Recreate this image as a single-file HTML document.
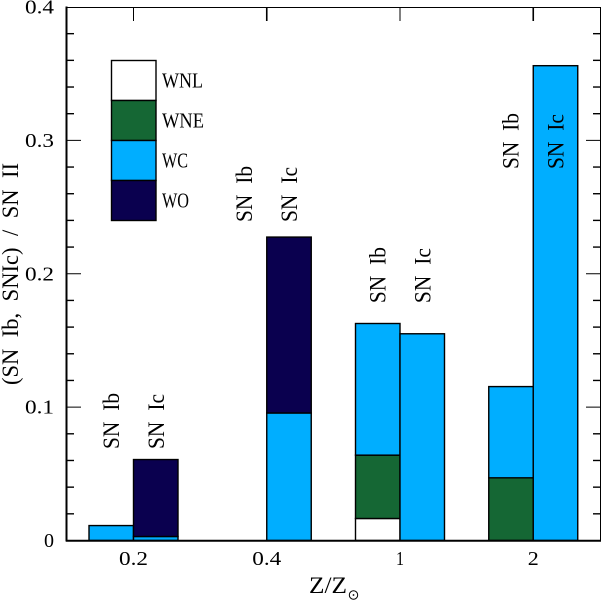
<!DOCTYPE html>
<html lang="en">
<head>
<meta charset="utf-8">
<title>SN Ib, SN Ic to SN II ratio by metallicity</title>
<style>
html,body{margin:0;padding:0;background:#fff;}
svg{display:block;}
text{font-family:"Liberation Serif",serif;fill:#000;}
</style>
</head>
<body>
<svg id="chart" xmlns="http://www.w3.org/2000/svg" width="601" height="600" viewBox="0 0 601 600"></svg>
<script>
const categories = ['0.2', '0.4', '1', '2'];
const yTickLabels = ['0', '0.1', '0.2', '0.3', '0.4'];
const legendLabels = ['WNL', 'WNE', 'WC', 'WO'];
const ibWNL = [0, 0, 0.0165, 0];
const ibWNE = [0, 0, 0.0475, 0.047];
const ibWC = [0.0112, 0, 0.0987, 0.0684];
const ibWO = [0, 0, 0, 0];
const icWNL = [0, 0, 0, 0];
const icWNE = [0, 0, 0, 0];
const icWC = [0.003, 0.0956, 0.155, 0.356];
const icWO = [0.0577, 0.1319, 0, 0];
const ibLabelValue = [0.0686, 0.2388, 0.178, 0.2785];
const icLabelValue = [0.0686, 0.2388, 0.178, 0.2785];

const NS = 'http://www.w3.org/2000/svg';
const svg = document.getElementById('chart');
const colors = ['#ffffff', '#156734', '#00aeff', '#0a004f'];
const left = 67, right = 600, top0 = 7, bottom = 540.5;
const yMax = 0.4;
function y(v) { return bottom - (v / yMax) * (bottom - top0); }
function x(i) { return 133.5 + i * (right - left) / 4; }
const barW = 44.5;

function make(tag, attrs, parent) {
  const el = document.createElementNS(NS, tag);
  for (const k in attrs) el.setAttribute(k, attrs[k]);
  (parent || svg).appendChild(el);
  return el;
}
function drawText(str, px, py, width, rotate, name, size, wordGap) {
  const attrs = { x: px, y: py, textLength: width, lengthAdjust: 'spacingAndGlyphs' };
  if (rotate) attrs.transform = 'rotate(-90 ' + px + ' ' + py + ')';
  const t = make('text', attrs);
  t.textContent = str;
  t.style.fontSize = size + 'px';
  if (wordGap) t.style.wordSpacing = wordGap + 'px';
  
  
  return t;
}
function drawRect(px, py, w, h, fill, name) {
  const r = make('rect', { x: px, y: py, width: w, height: h, fill: fill, stroke: '#000', 'stroke-width': 1.4 });
  
  
  return r;
}
function drawLine(x1, y1, x2, y2, w, name) {
  const l = make('line', { x1: x1, y1: y1, x2: x2, y2: y2, stroke: '#000', 'stroke-width': w });
  
  
  return l;
}

/* stacked bars */
const seriesNames = ['wnl', 'wne', 'wc', 'wo'];
const ibSeries = [ibWNL, ibWNE, ibWC, ibWO];
const icSeries = [icWNL, icWNE, icWC, icWO];
categories.forEach(function (cat, i) {
  let base = 0;
  ibSeries.forEach(function (s, k) {
    if (s[i] > 0) {
      drawRect(x(i) - barW, y(base + s[i]), barW, y(base) - y(base + s[i]), colors[k], 'bar-ib-' + seriesNames[k] + '-' + cat);
      base += s[i];
    }
  });
  base = 0;
  icSeries.forEach(function (s, k) {
    if (s[i] > 0) {
      drawRect(x(i), y(base + s[i]), barW, y(base) - y(base + s[i]), colors[k], 'bar-ic-' + seriesNames[k] + '-' + cat);
      base += s[i];
    }
  });
});

/* frame */
drawLine(66.5, 6.5, 66.5, 541.5, 2, 'left-axis');
drawLine(66, 7.5, 601, 7.5, 1, 'top-axis');
drawLine(600.5, 7, 600.5, 541, 1, 'right-axis');
drawLine(66, 540.7, 601, 540.7, 2, 'bottom-axis');

/* y ticks, major every 0.1 and minor every 0.02 */
for (let n = 1; n < 20; n++) {
  const v = n * 0.02;
  const major = n % 5 === 0;
  const len = major ? 14 : 7;
  const w = major ? 1 : 1.4;
  drawLine(left, y(v), left + len, y(v), w, 'left-tick-' + v.toFixed(2));
  drawLine(right, y(v), right - len, y(v), w, 'right-tick-' + v.toFixed(2));
}
/* top ticks at the categories */
categories.forEach(function (cat, i) {
  drawLine(x(i), top0, x(i), top0 + 14, i % 2 ? 1.6 : 1, 'top-tick-' + cat);
});

/* y tick labels */
yTickLabels.forEach(function (lab) {
  const isZero = lab === '0';
  drawText(lab, isZero ? 44 : 25, y(parseFloat(lab)) + 6.5, isZero ? 10 : 29, false, 'y-tick-label-' + lab, 20);
});
/* x tick labels */
categories.forEach(function (cat, i) {
  const w = cat.length > 1 ? 29 : (cat === '1' ? 8 : 11);
  drawText(cat, x(i) - w / 2, 565, w, false, 'x-tick-label-' + cat, 20);
});

/* axis titles */
drawText('(SN Ib, SNIc) / SN II', 18, 385, 222, true, 'y-axis-title', 23, 6);
drawText('Z/Z', 309, 593, 38, false, 'x-axis-title', 23);
const sunRing = make('circle', { cx: 353.5, cy: 595, r: 4.2, fill: 'none', stroke: '#000', 'stroke-width': 1 });


const sunDot = make('circle', { cx: 353.5, cy: 595, r: 0.9, fill: '#000' });



/* SN type annotations */
categories.forEach(function (cat, i) {
  drawText('SN Ib', x(i) - 14.5, y(ibLabelValue[i]), 56, true, 'sn-ib-label-' + cat, 23, 6);
  drawText('SN Ic', x(i) + 30.5, y(icLabelValue[i]), 55, true, 'sn-ic-label-' + cat, 23, 6);
});

/* legend */
const legendWidths = [41, 42, 26, 27];
legendLabels.forEach(function (lab, k) {
  const top = 60.5 + k * 40;
  drawRect(111.5, top, 44.5, 40, colors[k], 'legend-swatch-' + lab.toLowerCase());
  drawText(lab, 162, top + 27, legendWidths[k], false, 'legend-label-' + lab.toLowerCase(), 21);
});
</script>
</body>
</html>
